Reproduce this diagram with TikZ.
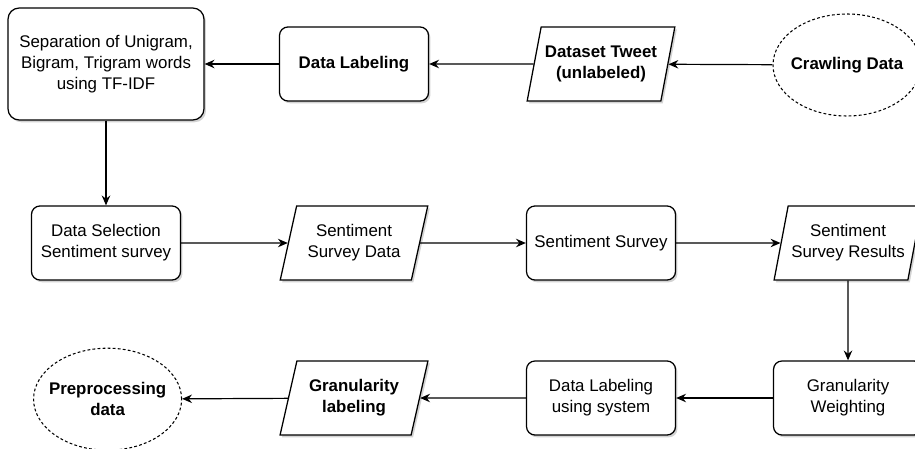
\documentclass[tikz,border=0pt]{standalone}
\usepackage{fontspec}
\setmainfont{Liberation Sans}
\usetikzlibrary{shapes.geometric, arrows.meta, shadows}
\definecolor{FlowLine}{HTML}{000000}
\definecolor{FlowShadow}{HTML}{9E9E9E}

\begin{document}
\begin{tikzpicture}[
  font=\fontsize{12}{15}\selectfont,
  boxshadow/.style={drop shadow={shadow xshift=1.4pt, shadow yshift=-1.6pt, fill=FlowShadow, opacity=0.45}},
  procbox/.style={draw=FlowLine, rounded corners=6pt, line width=0.9pt, fill=white, align=center,
    minimum width=3.725cm, minimum height=1.85cm, inner sep=2pt, boxshadow},
  databox/.style={draw=FlowLine, trapezium, trapezium left angle=71, trapezium right angle=109,
    trapezium stretches=true, line width=0.9pt, fill=white, align=center,
    minimum width=3.7cm, minimum height=1.85cm, inner sep=1pt, boxshadow},
  termnode/.style={draw=FlowLine, ellipse, dash pattern=on 2pt off 1.6pt, line width=0.75pt,
    fill=white, align=center, inner xsep=-6pt, inner ysep=0pt,
    minimum width=3.7cm, minimum height=2.55cm, font=\fontsize{12}{15}\selectfont\bfseries},
  flow/.style={-{Stealth[length=7pt, width=6pt]}, line width=0.85pt, FlowLine}
]
  \useasboundingbox (0,0) rectangle (22.875,-11.2);
  % Top row
  \node[procbox, minimum width=4.9cm, minimum height=2.8cm, rounded corners=8pt] (sepwords) at (2.65,-1.6)
    {Separation of Unigram,\\Bigram, Trigram words\\using TF-IDF};
  \node[procbox, font=\fontsize{12}{15}\selectfont\bfseries] (datalabel) at (8.85,-1.6) {Data Labeling};
  \node[databox, font=\fontsize{12}{15}\selectfont\bfseries] (tweet) at (15.025,-1.6) {Dataset Tweet\\(unlabeled)};
  \node[termnode] (crawl) at (21.175,-1.625) {Crawling Data};
  % Middle row
  \node[procbox] (selection) at (2.65,-6.075) {Data Selection\\Sentiment survey};
  \node[databox] (surveydata) at (8.85,-6.075) {Sentiment\\Survey Data};
  \node[procbox] (survey) at (15.025,-6.075) {Sentiment Survey};
  \node[databox] (results) at (21.2,-6.075) {Sentiment\\Survey Results};
  % Bottom row
  \node[termnode] (preproc) at (2.69,-9.98) {Preprocessing\\data};
  \node[databox, font=\fontsize{12}{15}\selectfont\bfseries] (granlabel) at (8.85,-9.95) {Granularity\\labeling};
  \node[procbox] (syslabel) at (15.025,-9.95) {Data Labeling\\using system};
  \node[procbox] (weighting) at (21.2,-9.95) {Granularity\\Weighting};
  % Connectors
  \draw[flow] (crawl) -- (tweet);
  \draw[flow] (tweet) -- (datalabel);
  \draw[flow] (datalabel) -- (sepwords);
  \draw[flow] (sepwords) -- (selection);
  \draw[flow] (selection) -- (surveydata);
  \draw[flow] (surveydata) -- (survey);
  \draw[flow] (survey) -- (results);
  \draw[flow] (results) -- (weighting);
  \draw[flow] (weighting) -- (syslabel);
  \draw[flow] (syslabel) -- (granlabel);
  \draw[flow] (granlabel) -- (preproc);
\end{tikzpicture}
\end{document}
